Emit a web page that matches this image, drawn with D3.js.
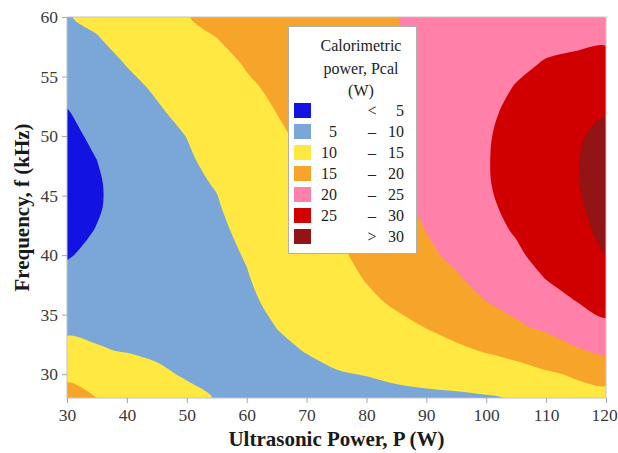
<!doctype html>
<html>
<head>
<style>
  body { margin: 0; background: #fff; }
  text { font-family: "Liberation Serif", "Times New Roman", serif; }
</style>
<script src="https://d3js.org/d3.v7.min.js"></script>
</head>
<body>
<svg width="618" height="453"></svg>
<script>
// grid: columns = ultrasonic power, rows = frequency
var powerValues = [30, 35, 40, 45, 50, 55, 60, 65, 70, 75, 80, 85, 90, 95, 100, 105, 110, 115, 120];
var freqValues = [28, 30, 32, 34, 36, 38, 40, 42, 44, 46, 48, 50, 52, 54, 56, 58, 60];

// calorimetric power Pcal (W), one row per frequency
var pcalRows = [
  [16.8, 15.0, 13.7, 12.4, 11.1, 9.8, 9.4, 9.1, 8.9, 8.8, 8.9, 9.0, 9.2, 9.2, 9.6, 10.3, 12.4, 13.6, 13.8],
  [14.1, 12.8, 11.75, 10.7, 9.6, 9.0, 8.9, 9.3, 9.4, 9.8, 10.1, 10.7, 11.2, 12.0, 12.6, 13.4, 14.5, 15.4, 16.2],
  [11.4, 10.25, 9.8, 9.3, 9.0, 8.6, 8.8, 9.5, 10.1, 10.8, 11.6, 12.2, 13.3, 14.3, 15.3, 16.3, 17.5, 19.5, 21.0],
  [9.1, 9.3, 8.9, 8.8, 8.6, 8.5, 8.9, 10.05, 10.9, 11.8, 12.9, 14.0, 15.15, 16.4, 17.7, 19.4, 20.9, 22.8, 24.2],
  [7.7, 8.3, 8.1, 8.3, 8.4, 8.6, 9.4, 10.7, 11.7, 12.7, 14.2, 15.5, 16.8, 18.2, 19.9, 21.3, 23.6, 24.9, 26.4],
  [6.1, 7.1, 7.4, 7.9, 8.3, 8.8, 9.8, 11.3, 12.5, 13.5, 15.2, 16.7, 18.1, 19.5, 21.6, 23.2, 25.05, 26.6, 28.3],
  [4.7, 6.0, 6.9, 7.7, 8.4, 9.1, 10.2, 12.0, 13.2, 14.3, 16.0, 17.6, 19.2, 20.9, 22.9, 24.4, 26.3, 27.9, 30.1],
  [4.0, 5.15, 6.5, 7.6, 8.6, 9.4, 10.7, 12.6, 13.8, 14.95, 16.7, 18.4, 20.05, 21.8, 23.8, 25.3, 27.3, 28.8, 31.0],
  [3.5, 4.7, 6.3, 7.7, 8.9, 9.7, 11.6, 13.2, 14.3, 15.6, 17.3, 19.0, 20.6, 22.4, 24.4, 25.9, 27.9, 29.4, 31.5],
  [3.3, 4.65, 6.4, 8.0, 9.3, 10.2, 12.2, 13.7, 14.75, 16.1, 17.8, 19.4, 20.9, 22.8, 24.75, 26.2, 28.3, 29.75, 31.7],
  [3.5, 5.0, 6.7, 8.4, 9.6, 10.9, 12.8, 14.2, 15.1, 16.5, 18.2, 19.6, 21.1, 23.0, 24.8, 26.3, 28.4, 29.8, 31.5],
  [4.1, 5.7, 7.3, 9.0, 10.05, 11.6, 13.4, 14.6, 15.5, 16.9, 18.5, 19.7, 21.2, 23.0, 24.7, 26.2, 28.3, 29.6, 30.9],
  [4.8, 6.6, 8.1, 9.6, 10.9, 12.4, 14.0, 15.02, 15.9, 17.2, 18.7, 19.75, 21.2, 22.9, 24.4, 25.8, 27.9, 29.1, 29.8],
  [5.9, 7.5, 9.1, 10.4, 11.8, 13.2, 14.55, 15.5, 16.3, 17.5, 18.9, 19.8, 21.1, 22.7, 23.9, 25.2, 26.9, 28.2, 28.3],
  [7.2, 8.5, 10.1, 11.3, 12.8, 14.0, 15.2, 16.0, 16.7, 17.8, 19.0, 19.8, 21.0, 22.3, 23.3, 24.4, 25.25, 25.8, 26.5],
  [8.5, 9.7, 11.2, 12.3, 13.8, 14.9, 15.9, 16.6, 17.2, 18.1, 19.1, 19.85, 20.8, 21.8, 22.7, 23.5, 24.3, 24.4, 24.6],
  [9.8, 10.8, 12.3, 13.6, 14.9, 15.7, 16.6, 17.3, 17.8, 18.5, 19.2, 19.9, 20.6, 21.3, 22.0, 22.6, 23.2, 23.5, 23.7]
];

var levels = [0, 5, 10, 15, 20, 25, 30];
var levelColors = ["#1212e2", "#7ba6d8", "#ffe842", "#f6a52a", "#ff80a8", "#d00000", "#921414"];
var legendFrom = ["", "5", "10", "15", "20", "25", ""];
var legendSign = ["<", "\u2013", "\u2013", "\u2013", "\u2013", "\u2013", ">"];
var legendTo = ["5", "10", "15", "20", "25", "30", "30"];
var legendTitle = ["Calorimetric", "power, Pcal", "(W)"];
var xTicks = [30, 40, 50, 60, 70, 80, 90, 100, 110, 120];
var yTicks = [30, 35, 40, 45, 50, 55, 60];

var svg = d3.select("svg");
var plotLeft = 67, plotRight = 606, plotTop = 17, plotBottom = 398;

var x = d3.scaleLinear().domain([30, 120]).range([plotLeft, plotRight]);
var y = d3.scaleLinear().domain([28, 60]).range([plotBottom, plotTop]);

svg.append("clipPath").attr("id", "plotclip")
   .append("rect")
   .attr("x", plotLeft).attr("y", plotTop)
   .attr("width", plotRight - plotLeft).attr("height", plotBottom - plotTop);

// contour bands from the grid (grid units -> data -> pixels)
var pStep = powerValues[1] - powerValues[0],
    fStep = freqValues[1] - freqValues[0];

var bands = d3.contours()
    .size([powerValues.length, freqValues.length])
    .thresholds(levels)(pcalRows.flat());

var ringLine = d3.line()
    .x(function(p) { return x(powerValues[0] + (p[0] - 0.5) * pStep); })
    .y(function(p) { return y(freqValues[0] + (p[1] - 0.5) * fStep); })
    .curve(d3.curveCatmullRomClosed.alpha(0.5));

function bandPath(band) {
    var d = "";
    band.coordinates.forEach(function(poly) {
        poly.forEach(function(ring) {
            d += ringLine(ring.slice(0, -1));
        });
    });
    return d;
}

svg.append("g")
   .attr("clip-path", "url(#plotclip)")
   .selectAll("path")
   .data(bands)
   .enter().append("path")
   .attr("d", bandPath)
   .attr("fill-rule", "evenodd")
   .attr("fill", function(d, i) { return levelColors[i]; });

// frame
svg.append("rect")
   .attr("x", plotLeft).attr("y", plotTop)
   .attr("width", plotRight - plotLeft).attr("height", plotBottom - plotTop)
   .attr("fill", "none")
   .attr("stroke", "#c4c4c4")
   .attr("stroke-width", 1);

// axes
var xAxis = svg.append("g")
   .attr("transform", "translate(0," + plotBottom + ")")
   .call(d3.axisBottom(x).tickValues(xTicks).tickSize(5).tickPadding(6));
var yAxis = svg.append("g")
   .attr("transform", "translate(" + plotLeft + ",0)")
   .call(d3.axisLeft(y).tickValues(yTicks).tickSize(5).tickPadding(4));

[xAxis, yAxis].forEach(function(a) {
    a.select(".domain").remove();
    a.selectAll(".tick line").attr("stroke", "#a6a6a6");
    a.selectAll(".tick text")
     .attr("font-family", "Liberation Serif, serif")
     .attr("font-size", "17.5px")
     .attr("fill", "#3a3a3a");
});
// last label sits right at the page edge
xAxis.selectAll(".tick text").filter(function(d) { return d === 120; })
     .attr("dx", "-2px");

svg.append("text")
   .attr("x", (plotLeft + plotRight) / 2)
   .attr("y", 446)
   .attr("text-anchor", "middle")
   .attr("font-size", "21px")
   .attr("font-weight", "bold")
   .attr("fill", "#1a1a1a")
   .text("Ultrasonic Power, P (W)");

svg.append("text")
   .attr("transform", "translate(29," + (plotTop + plotBottom) / 2 + ") rotate(-90)")
   .attr("text-anchor", "middle")
   .attr("font-size", "21px")
   .attr("font-weight", "bold")
   .attr("fill", "#1a1a1a")
   .text("Frequency, f (kHz)");

// legend
var lg = svg.append("g");
lg.append("rect")
  .attr("x", 288.5).attr("y", 26.5)
  .attr("width", 128).attr("height", 227)
  .attr("fill", "#fff")
  .attr("stroke", "#b0b0b0");

lg.selectAll(".ltitle")
  .data(legendTitle)
  .enter().append("text")
  .attr("x", 361)
  .attr("y", function(d, i) { return 51 + i * 22.5; })
  .attr("text-anchor", "middle")
  .attr("font-size", "16px")
  .attr("fill", "#222")
  .text(function(d) { return d; });

var rows = lg.selectAll(".lrow")
  .data(levelColors)
  .enter().append("g")
  .attr("transform", function(d, i) { return "translate(0," + (110.5 + i * 21) + ")"; });

rows.append("rect")
  .attr("x", 294).attr("y", -7.5)
  .attr("width", 17).attr("height", 15)
  .attr("fill", function(d) { return d; });

rows.append("text")
  .attr("x", 337).attr("y", 5.5)
  .attr("text-anchor", "end")
  .attr("font-size", "16px").attr("fill", "#222")
  .text(function(d, i) { return legendFrom[i]; });

rows.append("text")
  .attr("x", 372).attr("y", 5.5)
  .attr("text-anchor", "middle")
  .attr("font-size", "16px").attr("fill", "#222")
  .text(function(d, i) { return legendSign[i]; });

rows.append("text")
  .attr("x", 404).attr("y", 5.5)
  .attr("text-anchor", "end")
  .attr("font-size", "16px").attr("fill", "#222")
  .text(function(d, i) { return legendTo[i]; });
</script>
</body>
</html>
